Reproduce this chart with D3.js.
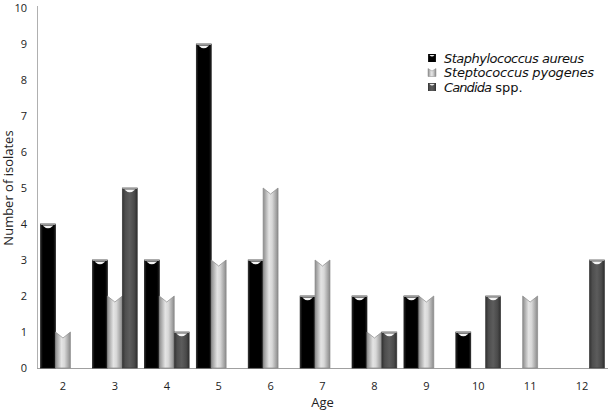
<!DOCTYPE html>
<html><head><meta charset="utf-8">
<script src="https://cdn.jsdelivr.net/npm/d3@7"></script>
<style>body{margin:0;background:#fff}svg{display:block}</style>
</head><body>
<svg id="c" width="609" height="411"></svg>
<script>
const ages = ["2","3","4","5","6","7","8","9","10","11","12"];
const staphylococcus = [4,3,3,9,3,2,2,2,1,0,0];
const streptococcus  = [1,2,2,3,5,3,1,2,0,2,0];
const candida        = [0,5,1,0,0,0,1,0,2,0,3];
const yTicks = [0,1,2,3,4,5,6,7,8,9,10];
const seriesNames = ["Staphylococcus aureus","Steptococcus  pyogenes","Candida"];

const svg = d3.select("#c");
const margin = {left:37, right:1, top:8, bottom:43};
const W = 609, H = 411;
const x = d3.scaleBand().domain(ages).range([margin.left, W-margin.right]).padding(0);
const y = d3.scaleLinear().domain([0,10]).range([H-margin.bottom, margin.top]);
const keys = ["s","p","c"];
const inner = d3.scaleBand().domain(keys).range([0, x.bandwidth()]).paddingOuter(0.24).paddingInner(0);

const defs = svg.append("defs");
function grad(id, stops){
  const g = defs.append("linearGradient").attr("id",id).attr("x1","0%").attr("x2","100%").attr("y1","0").attr("y2","0");
  stops.forEach(s=>g.append("stop").attr("offset",s[0]).attr("stop-color",s[1]));
}
grad("gs",[["0%","#2a2a2a"],["15%","#000"],["85%","#000"],["100%","#222"]]);
grad("gp",[["0%","#8c8c8c"],["40%","#e4e4e4"],["60%","#d8d8d8"],["100%","#8a8a8a"]]);
grad("gc",[["0%","#333"],["20%","#4e4e4e"],["50%","#5c5c5c"],["80%","#4a4a4a"],["100%","#2e2e2e"]]);

const data = ages.map((a,i)=>({age:a, s:staphylococcus[i], p:streptococcus[i], c:candida[i]}));

const base = y(0);
svg.append("line").attr("x1",x.range()[0]).attr("x2",x.range()[1]).attr("y1",base+0.5).attr("y2",base+0.5).attr("stroke","#a0a0a0").attr("stroke-width",1.2);
svg.append("line").attr("x1",margin.left+0.5).attr("x2",margin.left+0.5).attr("y1",y(10)-2).attr("y2",base).attr("stroke","#b0b0b0").attr("stroke-width",1);

const bars = svg.append("g");
data.forEach(d=>{
  keys.forEach(k=>{
    const v = d[k];
    if(!v) return;
    const x0 = x(d.age)+inner(k), w = inner.bandwidth(), x1 = x0+w, xc = x0+w/2;
    const top = y(v);
    if(k==="p"){
      bars.append("path")
        .attr("d",`M${x0},${base}L${x0},${top}L${xc},${top+6}L${x1},${top}L${x1},${base}Z`)
        .attr("fill","url(#gp)").attr("stroke","#8a8a8a").attr("stroke-width",0.7);
    } else {
      bars.append("rect").attr("x",x0).attr("y",top).attr("width",w).attr("height",base-top)
        .attr("fill", k==="s"?"url(#gs)":"url(#gc)")
        .attr("stroke", k==="s"?"#111":"#3a3a3a").attr("stroke-width",0.7);
      bars.append("line").attr("x1",x0).attr("x2",x1).attr("y1",top+0.5).attr("y2",top+0.5)
        .attr("stroke","#9a9a9a").attr("stroke-width",1);
      bars.append("path")
        .attr("d",`M${x0+2},${top+1.5}Q${xc},${top+7} ${x1-2},${top+1.5}Z`)
        .attr("fill", "#f4f4f4");
    }
  });
});

const yAxis = d3.axisLeft(y).tickValues(yTicks).tickSize(0).tickPadding(10);
const ya = svg.append("g").attr("transform",`translate(${margin.left},0)`).call(yAxis);
ya.select(".domain").remove();
ya.selectAll("text").attr("font-family","'Open Sans', sans-serif").attr("font-size","11px").attr("fill","#222");

const xAxis = d3.axisBottom(x).tickSize(0).tickPadding(14);
const xa = svg.append("g").attr("transform",`translate(0,${base})`).call(xAxis);
xa.select(".domain").remove();
xa.selectAll("text").attr("font-family","'Open Sans', sans-serif").attr("font-size","11px").attr("fill","#222");

svg.append("text").attr("x",(x.range()[0]+x.range()[1])/2).attr("y",407).attr("text-anchor","middle")
  .attr("font-family","'Open Sans', sans-serif").attr("font-size","13px").attr("fill","#222").text("Age");
svg.append("text").attr("transform","translate(13,188) rotate(-90)").attr("text-anchor","middle")
  .attr("font-family","'Open Sans', sans-serif").attr("font-size","13px").attr("fill","#222").text("Number of isolates");

const lg = svg.append("g").attr("transform","translate(428,54)");
const fills = ["url(#gs)","url(#gp)","url(#gc)"];
seriesNames.forEach((n,i)=>{
  const g = lg.append("g").attr("transform",`translate(0,${i*14.5})`);
  if(i===1){
    g.append("path").attr("d","M0,0L4,2.5L8,0L8,8L0,8Z").attr("fill",fills[i]).attr("stroke","#8a8a8a").attr("stroke-width",0.5);
  } else {
    g.append("rect").attr("width",8).attr("height",8).attr("fill",fills[i]);
    g.append("path").attr("d","M1.5,1Q4,4 6.5,1Z").attr("fill","#eee");
  }
  const t = g.append("text").attr("x",16).attr("y",8.5).attr("font-family","'DejaVu Sans', sans-serif").attr("font-size","13px").attr("fill","#111");
  const ts = t.append("tspan").attr("font-style","italic").text(n);
  if(i===0) ts.attr("textLength",140).attr("lengthAdjust","spacing");
  if(i===1) ts.attr("textLength",150).attr("lengthAdjust","spacing");
  if(i===2) { ts.attr("textLength",48).attr("lengthAdjust","spacing"); t.append("tspan").text(" spp."); }
});
</script>
</body></html>
